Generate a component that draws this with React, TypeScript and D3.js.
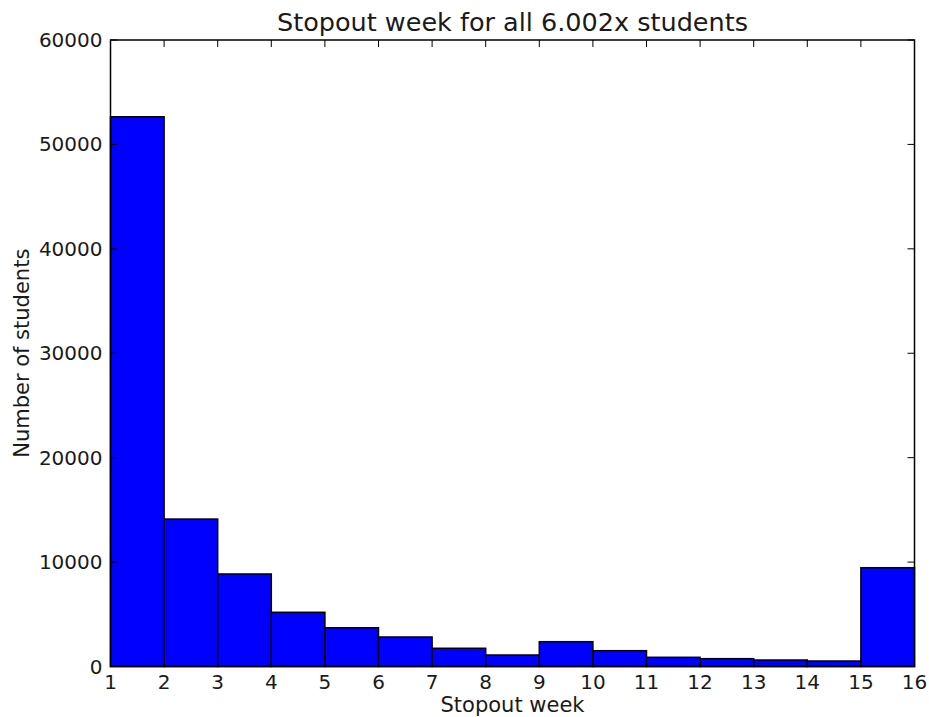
import React, { useEffect, useRef } from "react";
import * as d3 from "d3";

const weeks = [1, 2, 3, 4, 5, 6, 7, 8, 9, 10, 11, 12, 13, 14, 15];
const counts = [52650, 14120, 8860, 5190, 3710, 2825, 1745, 1100, 2375, 1515, 880, 750, 620, 525, 9460];
const xTicks = [1, 2, 3, 4, 5, 6, 7, 8, 9, 10, 11, 12, 13, 14, 15, 16];
const yTicks = [0, 10000, 20000, 30000, 40000, 50000, 60000];

export default function App() {
  const ref = useRef<SVGSVGElement>(null);

  useEffect(() => {
    document.body.style.margin = "0";
    document.body.style.overflow = "hidden";
    const svg = d3.select(ref.current);
    svg.selectAll("*").remove();

    const width = 929;
    const height = 717;
    const margin = { top: 40, left: 110.5, bottom: 50.5, right: 14.5 };
    const iwidth = width - margin.left - margin.right;
    const iheight = height - margin.top - margin.bottom;
    const font = "DejaVu Sans, sans-serif";

    const x = d3.scaleLinear().domain([1, 16]).range([0, iwidth]);
    const y = d3.scaleLinear().domain([0, 60000]).range([iheight, 0]);

    const g = svg.append("g").attr("transform", `translate(${margin.left},${margin.top})`);

    // barras
    g.selectAll("rect.bar")
      .data(weeks)
      .enter()
      .append("rect")
      .attr("class", "bar")
      .attr("x", (d) => x(d))
      .attr("y", (d, i) => y(counts[i]))
      .attr("width", (d) => x(d + 1) - x(d))
      .attr("height", (d, i) => iheight - y(counts[i]))
      .style("fill", "#0000ff")
      .style("stroke", "#000")
      .style("stroke-width", 1.5);

    // marco
    g.append("rect")
      .attr("width", iwidth)
      .attr("height", iheight)
      .style("fill", "none")
      .style("stroke", "#000")
      .style("stroke-width", 1.5);

    const tickLen = 7;
    // ticks x (abajo y arriba, hacia adentro)
    xTicks.forEach((t) => {
      g.append("line").attr("x1", x(t)).attr("x2", x(t)).attr("y1", iheight).attr("y2", iheight - tickLen).style("stroke", "#000");
      g.append("line").attr("x1", x(t)).attr("x2", x(t)).attr("y1", 0).attr("y2", tickLen).style("stroke", "#000");
      g.append("text")
        .attr("x", x(t))
        .attr("y", iheight + 22)
        .attr("text-anchor", "middle")
        .style("font-family", font)
        .style("font-size", "20px")
        .style("fill", "#1a1a1a")
        .text(String(t));
    });

    yTicks.forEach((t) => {
      g.append("line").attr("x1", 0).attr("x2", tickLen).attr("y1", y(t)).attr("y2", y(t)).style("stroke", "#000");
      g.append("line").attr("x1", iwidth).attr("x2", iwidth - tickLen).attr("y1", y(t)).attr("y2", y(t)).style("stroke", "#000");
      g.append("text")
        .attr("x", -8)
        .attr("y", y(t))
        .attr("dy", "0.35em")
        .attr("text-anchor", "end")
        .style("font-family", font)
        .style("font-size", "20px")
        .style("fill", "#1a1a1a")
        .text(String(t));
    });

    svg.append("text")
      .attr("x", margin.left + iwidth / 2)
      .attr("y", 31)
      .attr("text-anchor", "middle")
      .style("font-family", font)
      .style("font-size", "25.5px")
      .style("fill", "#1a1a1a")
      .text("Stopout week for all 6.002x students");

    svg.append("text")
      .attr("x", margin.left + iwidth / 2)
      .attr("y", 712)
      .attr("text-anchor", "middle")
      .style("font-family", font)
      .style("font-size", "21px")
      .style("fill", "#1a1a1a")
      .text("Stopout week");

    svg.append("text")
      .attr("transform", `translate(29,${margin.top + iheight / 2}) rotate(-90)`)
      .attr("text-anchor", "middle")
      .style("font-family", font)
      .style("font-size", "21px")
      .style("fill", "#1a1a1a")
      .text("Number of students");
  });

  return (
    <div>
      <svg
        ref={ref}
        width={929}
        height={717}
        style={{ display: "block", position: "absolute", left: 0, top: 0, background: "#fff" }}
      ></svg>
    </div>
  );
}
